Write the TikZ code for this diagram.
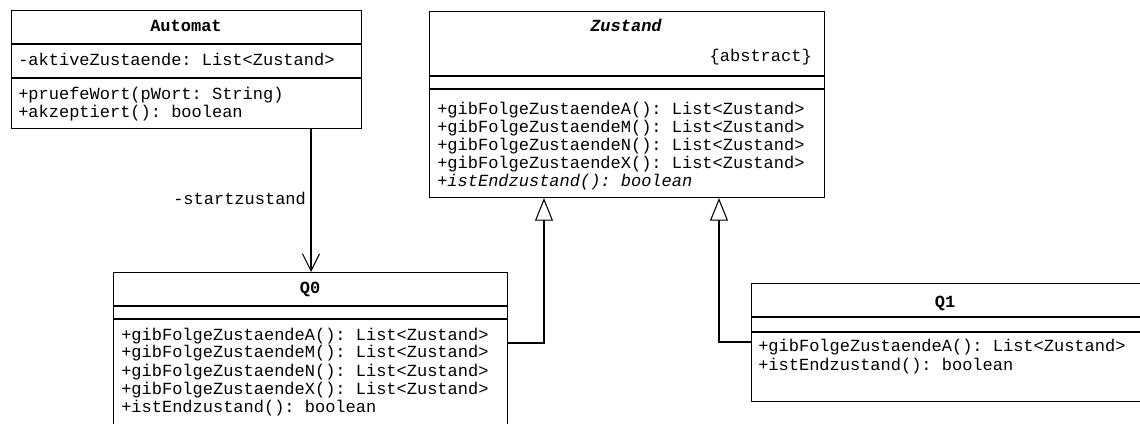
\documentclass[tikz,border=0pt]{standalone}
\usepackage{fontspec}
\setmonofont{Liberation Mono}
\usetikzlibrary{arrows.meta}
\tikzset{
  box/.style={draw, line width=0.8pt, anchor=north west, inner sep=0pt, fill=white},
  sep/.style={line width=0.8pt},
  txt/.style={anchor=base west, inner sep=0pt, font=\ttfamily\fontsize{12.75pt}{13.5pt}\selectfont},
  ctxt/.style={anchor=base, inner sep=0pt, font=\ttfamily\bfseries\fontsize{12.75pt}{13.5pt}\selectfont},
  conn/.style={line width=0.8pt},
  gen/.style={conn, -{Triangle[open, length=17pt, width=13.5pt, fill=white]}},
  assoc/.style={conn, -{Straight Barb[length=12.75pt, width=12.75pt, line width=0.8pt]}},
}
\begin{document}
\begin{tikzpicture}[x=0.75pt, y=-0.75pt]
\useasboundingbox (0,0) rectangle (1140,424);
\clip (0,0) rectangle (1140,424);
\fill[white] (0,0) rectangle (1140,424);

% Automat
\node[box, minimum width=262.5pt, minimum height=88.5pt] (automat) at (11,10) {};
\draw[sep] (11,44) -- (361,44);
\draw[sep] (11,78) -- (361,78);
\node[ctxt] (automatname) at (186,32) {Automat};
\node[txt] (aattr) at (18,66) {-aktiveZustaende: List<Zustand>};
\node[txt] (am1) at (18,100) {+pruefeWort(pWort: String)};
\node[txt] (am2) at (18,118) {+akzeptiert(): boolean};

% Zustand
\node[box, minimum width=296.25pt, minimum height=139.5pt] (zustand) at (429,11) {};
\draw[sep] (429,76) -- (824,76);
\draw[sep] (429,89) -- (824,89);
\node[ctxt, font=\ttfamily\bfseries\itshape\fontsize{12.75pt}{13.5pt}\selectfont] (zustandname) at (626,32) {Zustand};
\node[txt, anchor=base east] (zabs) at (812,62) {\{abstract\}};
\node[txt] (zm1) at (437,115) {+gibFolgeZustaendeA(): List<Zustand>};
\node[txt] (zm2) at (437,133) {+gibFolgeZustaendeM(): List<Zustand>};
\node[txt] (zm3) at (437,151) {+gibFolgeZustaendeN(): List<Zustand>};
\node[txt] (zm4) at (437,169) {+gibFolgeZustaendeX(): List<Zustand>};
\node[txt, font=\ttfamily\itshape\fontsize{12.75pt}{13.5pt}\selectfont] (zm5) at (437,187) {+istEndzustand(): boolean};

% Q0
\node[box, minimum width=295.5pt, minimum height=126pt] (q0) at (113,272) {};
\draw[sep] (113,306) -- (507,306);
\draw[sep] (113,319) -- (507,319);
\node[ctxt] (q0name) at (310,294) {Q0};
\node[txt] (q0m1) at (121,340) {+gibFolgeZustaendeA(): List<Zustand>};
\node[txt] (q0m2) at (121,358) {+gibFolgeZustaendeM(): List<Zustand>};
\node[txt] (q0m3) at (121,376) {+gibFolgeZustaendeN(): List<Zustand>};
\node[txt] (q0m4) at (121,394) {+gibFolgeZustaendeX(): List<Zustand>};
\node[txt] (q0m5) at (121,412) {+istEndzustand(): boolean};

% Q1
\node[box, minimum width=299.25pt, minimum height=88.5pt] (q1) at (751,283) {};
\draw[sep] (751,317) -- (1150,317);
\draw[sep] (751,332) -- (1150,332);
\node[ctxt] (q1name) at (945,307) {Q1};
\node[txt] (q1m1) at (758,352) {+gibFolgeZustaendeA(): List<Zustand>};
\node[txt] (q1m2) at (758,370) {+istEndzustand(): boolean};

% connectors
\coordinate (a1) at (311,0);
\draw[assoc] (automat.south -| a1) -- (q0.north -| a1);
\node[txt] (startlbl) at (173,205) {-startzustand};

\coordinate (g0) at (544,343);
\draw[gen] (q0.east |- g0) -- (g0) -- (zustand.south -| g0);
\coordinate (g1) at (719,342);
\draw[gen] (q1.west |- g1) -- (g1) -- (zustand.south -| g1);
\end{tikzpicture}
\end{document}
